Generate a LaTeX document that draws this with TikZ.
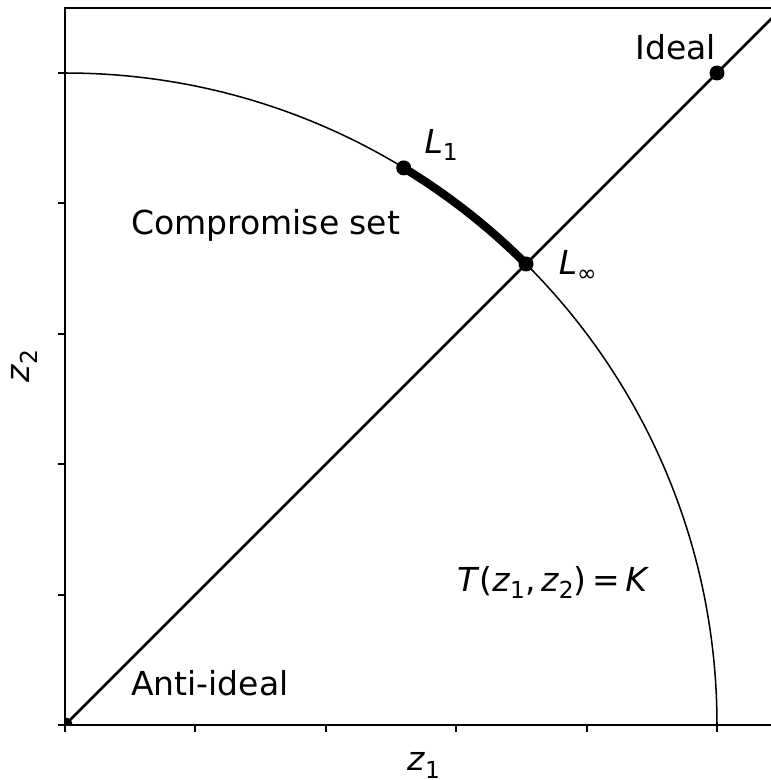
\documentclass[tikz,border=0pt]{standalone}
\usepackage{fontspec}
\setmainfont{DejaVu Sans}
\usetikzlibrary{positioning}
\tikzset{
	ptdot/.style ={circle, fill=black, inner sep=0pt, minimum size=0.115cm},
	lbl/.style   ={font=\fontsize{7.2}{8.5}\selectfont, inner sep=0pt},
	spine/.style ={line width=0.45pt, black},
	axtick/.style={line width=0.4pt, black},
}
\newcommand{\sbs}[1]{\raisebox{-0.4ex}{\fontsize{5.1}{6}\selectfont #1}}
\newcommand{\vz}[1]{\textit{z}\sbs{#1}}

\begin{document}
\begin{tikzpicture}
	\useasboundingbox (-0.4985,-0.4218) rectangle (5.414,5.560);
	% axes frame and ticks
	\draw[spine] (0,0) rectangle (5.5,5.5);
	\foreach \k in {0,...,5} {
		\draw[axtick] (\k,0) -- ++(0,-0.055);
		\draw[axtick] (0,\k) -- ++(-0.055,0);
	}
	\coordinate (O) at (0,0);
	\coordinate (corner) at (5.5,5.5);
	% curves
	\draw[line width=0.55pt] (O) -- (corner);
	\draw[line width=0.33pt] (0,5) arc[start angle=90, end angle=0, radius=5];
	\draw[line width=1.8pt] (58.7:5) arc[start angle=58.7, end angle=45, radius=5];
	% points
	\begin{scope}
		\clip (0,0) rectangle (5.5,5.5);
		\node[ptdot] (anti) at (O) {};
	\end{scope}
	\node[ptdot] (l1) at (58.7:5) {};
	\node[ptdot] (linf) at (45:5) {};
	\node[ptdot] (ideal) at (5,5) {};
	% labels
	\node[lbl, anchor=west] (idealtxt) at (4.37,5.2) {Ideal};
	\node[lbl, anchor=west] (l1txt) at (2.75,4.45) {\textit{L}\sbs{1}};
	\node[lbl, anchor=west] (linftxt) at (3.78,3.52) {\textit{L}\sbs{∞}};
	\node[lbl, anchor=west] (settxt) at (0.5,3.83) {Compromise set};
	\node[lbl, anchor=west] (antitxt) at (0.5,0.322) {Anti-ideal};
	\node[lbl, anchor=west] (Ttxt) at (3.0,1.09) {\textit{T}(\vz{1},\,\vz{2})\,=\,\textit{K}};
	\node[lbl] (xlab) at (2.75,-0.31) {\vz{1}};
	\node[lbl, rotate=90] (ylab) at (-0.31,2.75) {\vz{2}};
\end{tikzpicture}
\end{document}
